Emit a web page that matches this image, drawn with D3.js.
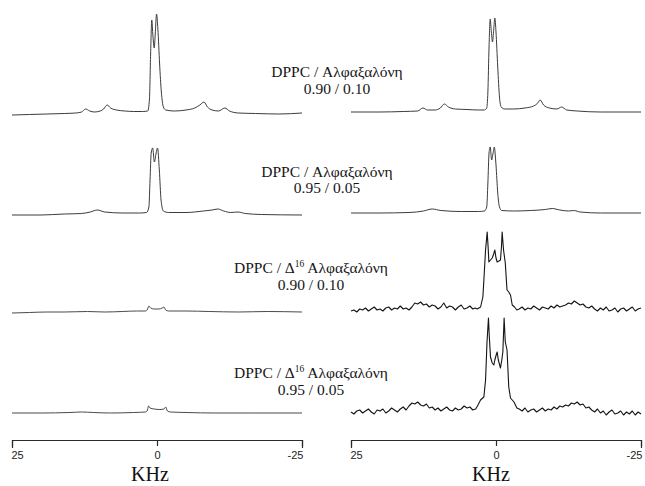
<!DOCTYPE html>
<html>
<head>
<meta charset="utf-8">
<script src="https://cdn.jsdelivr.net/npm/d3@7"></script>
<style>
  html, body { margin: 0; padding: 0; background: #fff; }
  svg { display: block; }
</style>
</head>
<body>
<svg id="chart" width="645" height="486"></svg>
<script>
// ---------- DATA (frequency in kHz, intensity in arbitrary units) ----------
const tickValues = [25, 0, -25];
const tickLabels = ["25", "0", "-25"];
const axisTitle = "KHz";

const labelTop = ["DPPC / Αλφαξαλόνη", "DPPC / Αλφαξαλόνη", "DPPC / Δ|16| Αλφαξαλόνη", "DPPC / Δ|16| Αλφαξαλόνη"];
const labelRatio = ["0.90 / 0.10", "0.95 / 0.05", "0.90 / 0.10", "0.95 / 0.05"];

// Row 1: DPPC / Alfaxalone 0.90/0.10
const r1Left = [[25,-1],[22,-0.5],[19,0],[16,0.5],[14,1],[13,2],[12.3,5],[11.6,3],[10.8,2],[9.8,3],[9.2,5],[8.6,9],[8.0,6],[7,4],[5.5,3],[4,2.5],[2.5,2.5],[1.6,3],[1.3,15],[1.1,60],[0.9,94],[0.7,78],[0.48,66],[0.3,80],[0.08,100],[-0.15,85],[-0.45,50],[-0.75,22],[-1.1,7],[-1.5,4],[-3,3],[-5,4],[-6.5,6],[-7.4,9],[-8.1,12],[-8.7,7],[-9.5,4],[-10.6,3],[-11.7,6],[-12.5,3],[-14,1],[-17,0.5],[-21,0],[-25,1]];
const r1Right = [[25,0],[20,0],[16,0.5],[13.5,1],[12.6,4],[11.8,2],[10.5,2],[9.6,4],[8.9,8],[8.2,5],[7,3],[5,2.5],[3,2],[2,2],[1.6,4],[1.4,20],[1.2,65],[1.0,93],[0.8,80],[0.6,70],[0.4,82],[0.2,94],[0,80],[-0.3,45],[-0.6,15],[-0.9,5],[-1.5,3],[-3,3],[-5,4],[-6.5,6],[-7.2,9],[-7.6,12],[-8.2,7],[-9.2,4],[-10.5,3],[-11.3,5],[-12.2,2],[-14,1],[-18,0],[-25,0]];

// Row 2: DPPC / Alfaxalone 0.95/0.05
const r2Left = [[25,0],[20,0],[16,1],[13,1.5],[11.5,3],[10.3,5],[9,3],[6,2],[3,2],[1.8,2.5],[1.4,8],[1.2,35],[1.0,62],[0.75,67],[0.45,53],[0.15,62],[-0.1,67],[-0.4,45],[-0.7,15],[-1.1,4],[-2,2.5],[-5,2.5],[-8,4],[-9.5,5],[-10.5,6],[-11.5,4],[-12.7,2.5],[-14,3],[-15.2,1.5],[-18,0.5],[-25,0]];
const r2Right = [[25,0],[20,0],[15,0.5],[12.5,2],[11,4],[9.5,2.5],[6,1.5],[3,1.5],[2,2],[1.6,6],[1.4,30],[1.2,60],[1.0,66],[0.75,53],[0.5,60],[0.3,66],[0,48],[-0.3,20],[-0.6,6],[-1,2.5],[-3,2],[-6,2.5],[-8.5,3.5],[-9.7,4.5],[-11,3],[-12.5,2],[-13.4,2.5],[-14.5,1],[-18,0],[-25,0]];

// Row 3: DPPC / Δ16 Alfaxalone 0.90/0.10
const r3Left = [[25,-1],[22,-0.5],[19,0],[16,0],[12,0.5],[9,0],[6,0.5],[3.5,1],[2,1],[1.7,2],[1.4,6],[1.1,4],[0.5,3],[-0.3,3],[-0.9,4],[-1.2,5],[-1.5,2],[-2,1],[-5,1],[-9,0.5],[-14,0],[-19,0.5],[-25,0]];
const r3Right = [[25,-1],[24.5,0],[24,-2],[23.5,1],[23,0],[22.5,2],[22,-1],[21.5,1],[21,3],[20.5,0],[20,1],[19.5,-1],[19,2],[18.5,3],[18,0],[17.5,2],[17,1],[16.5,4],[16,1],[15.5,2],[15,0],[14.5,3],[14,7],[13.5,6],[13,8],[12.5,5],[12,6],[11.5,3],[11,5],[10.5,4],[10,1],[9.5,3],[9,7],[8.5,2],[8,4],[7.5,3],[7,0],[6.5,3],[6,5],[5.5,1],[5,2],[4.5,4],[4,1],[3.6,2],
  [3.23,1],[2.66,3],[2.26,13],[2.09,30],[1.8,60],[1.52,78],[1.35,62],[1.23,48],[0.95,50],[0.65,52],[0.4,56],[0.2,60],[0.0,52],[-0.2,48],[-0.5,49],[-0.77,50],[-0.95,64],[-1.06,78],[-1.3,60],[-1.6,47],[-1.9,20],[-2.2,18],[-2.5,15],[-2.8,5],[-3.2,3],[-3.6,0],
  [-4,1],[-4.5,3],[-5,0],[-5.5,2],[-6,1],[-6.5,4],[-7,2],[-7.5,0],[-8,3],[-8.5,2],[-9,1],[-9.5,4],[-10,2],[-10.5,5],[-11,3],[-11.5,4],[-12,5],[-12.5,7],[-13,6],[-13.5,9],[-14,7],[-14.5,5],[-15,6],[-15.5,3],[-16,2],[-16.5,4],[-17,1],[-17.5,-1],[-18,2],[-18.5,0],[-19,3],[-19.5,-1],[-20,0],[-20.5,2],[-21,-2],[-21.5,1],[-22,2],[-22.5,-1],[-23,1],[-23.5,3],[-24,-1],[-24.5,1],[-25,2]];

// Row 4: DPPC / Δ16 Alfaxalone 0.95/0.05
const r4Left = [[25,0],[20,0],[15,0.5],[13,1],[11,0.5],[8,0],[4,0.5],[2,1],[1.7,2],[1.45,7],[1.2,5],[0.5,4],[-0.5,3.5],[-1.2,4],[-1.5,6],[-1.8,2],[-2.3,1],[-5,0.5],[-10,0],[-16,0],[-25,0]];
const r4Right = [[25,0],[24.5,-2],[24,1],[23.5,2],[23,-1],[22.5,1],[22,3],[21.5,0],[21,-2],[20.5,2],[20,1],[19.5,3],[19,-1],[18.5,1],[18,4],[17.5,2],[17,0],[16.5,3],[16,5],[15.5,2],[15,6],[14.5,9],[14,8],[13.5,10],[13,7],[12.5,6],[12,8],[11.5,4],[11,5],[10.5,2],[10,4],[9.5,1],[9,3],[8.5,5],[8,2],[7.5,1],[7,4],[6.5,2],[6,3],[5.5,6],[5,4],[4.5,5],[4,2],[3.5,3],
  [3.2,6],[2.66,12],[2.3,14],[2.09,15],[1.8,32],[1.55,70],[1.3,94],[1.15,75],[0.95,55],[0.65,49],[0.37,47],[0.2,52],[-0.03,57],[-0.2,60],[-0.4,52],[-0.77,44],[-1.0,52],[-1.18,60],[-1.4,94],[-1.6,70],[-1.9,62],[-2.2,25],[-2.5,14],[-3.1,10],[-3.6,4],
  [-4,3],[-4.5,1],[-5,4],[-5.5,0],[-6,2],[-6.5,3],[-7,0],[-7.5,2],[-8,4],[-8.5,1],[-9,3],[-9.5,2],[-10,5],[-10.5,3],[-11,6],[-11.5,5],[-12,7],[-12.5,6],[-13,9],[-13.5,8],[-14,10],[-14.5,7],[-15,8],[-15.5,4],[-16,5],[-16.5,2],[-17,0],[-17.5,3],[-18,-1],[-18.5,1],[-19,-3],[-19.5,0],[-20,2],[-20.5,-2],[-21,-1],[-21.5,1],[-22,-3],[-22.5,0],[-23,-2],[-23.5,1],[-24,-3],[-24.5,0],[-25,-2]];

// ---------- LAYOUT ----------
const W = 645, H = 486;
const svg = d3.select("#chart");
svg.append("rect").attr("width", W).attr("height", H).attr("fill", "#fff");

const xLeft = d3.scaleLinear().domain([25, -25]).range([12, 302]);
const xRight = d3.scaleLinear().domain([25, -25]).range([351, 641]);

const rows = [
  { left: r1Left, right: r1Right, baseL: 114, baseR: 112, noisyR: false, labelX: 337, labelY: 77 },
  { left: r2Left, right: r2Right, baseL: 215, baseR: 213, noisyR: false, labelX: 327, labelY: 176.5 },
  { left: r3Left, right: r3Right, baseL: 312, baseR: 310, noisyR: true, labelX: 311, labelY: 273 },
  { left: r4Left, right: r4Right, baseL: 413, baseR: 412, noisyR: true, labelX: 311, labelY: 378 }
];

function drawSpectrum(data, xs, base, noisy, color) {
  const y = d3.scaleLinear().domain([0, 100]).range([base, base - 100]);
  const line = d3.line()
    .x(d => xs(d[0]))
    .y(d => y(d[1]))
    .curve(noisy ? d3.curveLinear : d3.curveMonotoneX);
  svg.append("path")
    .datum(data)
    .attr("d", line)
    .attr("fill", "none")
    .attr("stroke", color)
    .attr("stroke-width", noisy ? 1.1 : 1)
    .attr("stroke-linejoin", "round");
}

const labelFont = "'Liberation Serif', 'Times New Roman', serif";
rows.forEach((r, i) => {
  drawSpectrum(r.left, xLeft, r.baseL, false, i < 2 ? "#3c3c3c" : "#4a4a4a");
  drawSpectrum(r.right, xRight, r.baseR, r.noisyR, r.noisyR ? "#141414" : "#3c3c3c");

  const t = svg.append("text")
    .attr("x", r.labelX).attr("y", r.labelY)
    .attr("text-anchor", "middle")
    .attr("font-family", labelFont)
    .attr("font-size", 15.5)
    .attr("fill", "#161616");
  const parts = labelTop[i].split("|");
  if (parts.length === 1) {
    t.text(parts[0]);
  } else {
    t.append("tspan").text(parts[0]);
    t.append("tspan").attr("font-size", 9.5).attr("dy", -6).text(parts[1]);
    t.append("tspan").attr("dy", 6).text(parts[2]);
  }
  svg.append("text")
    .attr("x", r.labelX).attr("y", r.labelY + 16.5)
    .attr("text-anchor", "middle")
    .attr("font-family", labelFont)
    .attr("font-size", 15.5)
    .attr("fill", "#161616")
    .text(labelRatio[i]);
});

// ---------- AXES ----------
const axisY = 440;
[xLeft, xRight].forEach((xs, k) => {
  const axis = d3.axisBottom(xs)
    .tickValues(tickValues)
    .tickFormat((d, i) => tickLabels[i])
    .tickSize(6)
    .tickSizeOuter(8)
    .tickPadding(5);
  const g = svg.append("g").attr("transform", `translate(0,${axisY})`).call(axis);
  g.select(".domain").attr("stroke", "#2a2a2a").attr("stroke-width", 1.2);
  g.selectAll(".tick line").attr("stroke", "#2a2a2a").attr("stroke-width", 1.2);
  g.selectAll(".tick text")
    .attr("font-family", "'Liberation Sans', Arial, sans-serif")
    .attr("font-size", 11)
    .attr("fill", "#222")
    .attr("text-anchor", d => d === 25 ? "start" : (d === -25 ? "end" : "middle"))
    .attr("dx", d => d === 25 ? -1 : (d === -25 ? 1 : 0));
  svg.append("text")
    .attr("x", k === 0 ? 150 : 491)
    .attr("y", 481)
    .attr("text-anchor", "middle")
    .attr("font-family", labelFont)
    .attr("font-size", 20)
    .attr("fill", "#111")
    .text(axisTitle);
});
</script>
</body>
</html>
